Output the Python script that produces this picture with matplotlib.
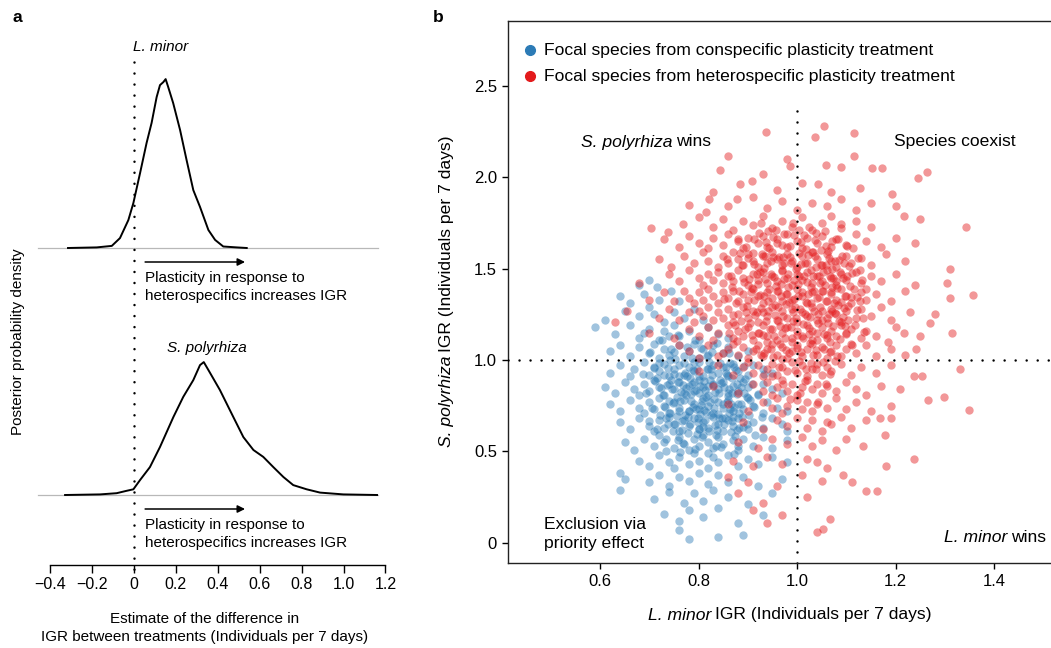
import matplotlib
matplotlib.use("Agg")
import matplotlib.pyplot as plt

# panel a: posterior densities (x = difference in IGR, density in arbitrary units)
lminor_x = [-0.315, -0.178, -0.106, -0.067, -0.027, -0.003, 0.029, 0.06, 0.084, 0.108, 0.124, 0.14,
            0.151, 0.163, 0.187, 0.22, 0.251, 0.283, 0.315, 0.355, 0.387, 0.426, 0.49, 0.538]
lminor_d = [0, 0.02, 0.07, 0.33, 0.93, 1.5, 2.5, 3.5, 4.17, 5.03, 5.43, 5.53,
            5.63, 5.37, 4.83, 3.93, 2.93, 1.93, 1.37, 0.6, 0.27, 0.05, 0.02, 0]
spoly_x = [-0.329, -0.162, -0.083, -0.035, -0.003, 0.029, 0.076, 0.124, 0.188, 0.235, 0.283, 0.315,
           0.333, 0.363, 0.41, 0.474, 0.522, 0.57, 0.617, 0.665, 0.713, 0.76, 0.824, 0.888, 0.999, 1.16]
spoly_d = [0, 0.02, 0.06, 0.14, 0.19, 0.5, 0.93, 1.6, 2.6, 3.27, 3.83, 4.33,
           4.43, 4.07, 3.5, 2.6, 1.93, 1.5, 1.27, 0.93, 0.6, 0.33, 0.19, 0.08, 0.02, 0]
a_ticks = [-0.4, -0.2, 0, 0.2, 0.4, 0.6, 0.8, 1.0, 1.2]
a_tick_labels = ["\u22120.4", "\u22120.2", "0", "0.2", "0.4", "0.6", "0.8", "1.0", "1.2"]

# panel b: posterior draws (L. minor IGR, S. polyrhiza IGR)
conspecific = [
    (0.68, 1.41), (0.70, 1.44), (0.715, 1.40),
    (0.66, 1.31), (0.69, 1.36), (0.72, 1.33), (0.745, 1.38), (0.76, 1.32), (0.64, 1.35),
    (0.61, 1.22), (0.65, 1.27), (0.68, 1.24), (0.70, 1.29), (0.73, 1.21), (0.75, 1.26), (0.77, 1.23),
    (0.79, 1.28), (0.81, 1.22), (0.71, 1.25),
    (0.59, 1.18), (0.63, 1.14), (0.66, 1.19), (0.68, 1.12), (0.70, 1.17), (0.72, 1.11), (0.73, 1.16),
    (0.75, 1.19), (0.76, 1.13), (0.78, 1.16), (0.80, 1.11), (0.82, 1.18), (0.84, 1.14), (0.69, 1.15),
    (0.74, 1.13), (0.86, 1.12),
    (0.62, 1.05), (0.64, 1.08), (0.66, 1.02), (0.68, 1.07), (0.70, 1.04), (0.71, 1.09), (0.72, 1.01),
    (0.73, 1.06), (0.74, 1.03), (0.76, 1.08), (0.77, 1.02), (0.78, 1.05), (0.79, 1.09), (0.80, 1.01),
    (0.81, 1.06), (0.82, 1.03), (0.83, 1.08), (0.85, 1.04), (0.86, 1.07), (0.88, 1.02), (0.90, 1.05),
    (0.75, 1.045),
    (0.62, 0.93), (0.64, 0.97), (0.66, 0.91), (0.67, 0.95), (0.69, 0.99), (0.70, 0.92), (0.71, 0.96),
    (0.72, 0.94), (0.73, 0.98), (0.74, 0.91), (0.75, 0.95), (0.76, 0.97), (0.77, 0.92), (0.78, 0.96),
    (0.79, 0.94), (0.80, 0.99), (0.81, 0.91), (0.82, 0.95), (0.83, 0.97), (0.84, 0.93), (0.85, 0.96),
    (0.86, 0.91), (0.87, 0.98), (0.88, 0.94), (0.90, 0.92), (0.91, 0.97), (0.93, 0.95), (0.95, 0.93),
    (0.61, 0.85), (0.63, 0.82), (0.65, 0.88), (0.67, 0.84), (0.68, 0.81), (0.69, 0.87), (0.70, 0.83),
    (0.71, 0.89), (0.72, 0.85), (0.73, 0.81), (0.74, 0.87), (0.75, 0.84), (0.76, 0.88), (0.77, 0.82),
    (0.78, 0.86), (0.79, 0.83), (0.80, 0.89), (0.81, 0.85), (0.82, 0.81), (0.83, 0.87), (0.84, 0.84),
    (0.85, 0.88), (0.86, 0.82), (0.87, 0.86), (0.88, 0.83), (0.89, 0.88), (0.90, 0.85), (0.92, 0.81),
    (0.93, 0.87), (0.95, 0.84), (0.97, 0.82), (0.775, 0.845),
    (0.62, 0.76), (0.64, 0.72), (0.66, 0.78), (0.68, 0.74), (0.69, 0.71), (0.70, 0.77), (0.71, 0.73),
    (0.72, 0.79), (0.73, 0.75), (0.74, 0.71), (0.75, 0.77), (0.76, 0.74), (0.77, 0.78), (0.78, 0.72),
    (0.79, 0.76), (0.80, 0.73), (0.81, 0.79), (0.82, 0.75), (0.83, 0.71), (0.84, 0.77), (0.85, 0.74),
    (0.86, 0.78), (0.87, 0.72), (0.88, 0.76), (0.89, 0.73), (0.90, 0.79), (0.91, 0.75), (0.93, 0.71),
    (0.94, 0.77), (0.96, 0.74), (0.98, 0.72), (0.805, 0.755),
    (0.64, 0.66), (0.66, 0.62), (0.68, 0.68), (0.70, 0.64), (0.71, 0.61), (0.72, 0.67), (0.73, 0.63),
    (0.74, 0.69), (0.75, 0.65), (0.76, 0.61), (0.77, 0.67), (0.78, 0.64), (0.79, 0.68), (0.80, 0.62),
    (0.81, 0.66), (0.82, 0.63), (0.83, 0.69), (0.84, 0.65), (0.85, 0.61), (0.86, 0.67), (0.87, 0.64),
    (0.88, 0.68), (0.90, 0.62), (0.91, 0.66), (0.93, 0.63), (0.95, 0.68), (0.97, 0.65), (0.98, 0.61),
    (0.65, 0.55), (0.67, 0.51), (0.69, 0.57), (0.71, 0.53), (0.72, 0.59), (0.73, 0.55), (0.75, 0.52),
    (0.76, 0.58), (0.77, 0.54), (0.78, 0.51), (0.79, 0.57), (0.80, 0.53), (0.81, 0.59), (0.82, 0.55),
    (0.83, 0.52), (0.84, 0.58), (0.85, 0.54), (0.87, 0.56), (0.88, 0.51), (0.89, 0.57), (0.91, 0.53),
    (0.93, 0.58), (0.95, 0.52), (0.98, 0.56),
    (0.68, 0.45), (0.70, 0.42), (0.72, 0.48), (0.74, 0.44), (0.75, 0.41), (0.76, 0.47), (0.78, 0.43),
    (0.79, 0.49), (0.80, 0.45), (0.82, 0.41), (0.83, 0.47), (0.84, 0.44), (0.86, 0.48), (0.88, 0.42),
    (0.90, 0.46), (0.92, 0.43), (0.95, 0.47), (0.98, 0.44),
    (0.64, 0.38), (0.65, 0.35), (0.70, 0.33), (0.72, 0.37), (0.74, 0.31), (0.76, 0.36), (0.78, 0.34),
    (0.80, 0.38), (0.82, 0.32), (0.84, 0.37), (0.86, 0.33), (0.89, 0.36), (0.92, 0.31), (0.97, 0.35),
    (0.64, 0.29), (0.71, 0.24), (0.74, 0.28), (0.77, 0.22), (0.79, 0.27), (0.81, 0.23), (0.83, 0.29),
    (0.86, 0.25), (0.90, 0.21), (0.95, 0.27),
    (0.73, 0.16), (0.76, 0.12), (0.78, 0.18), (0.81, 0.14), (0.84, 0.19), (0.88, 0.11), (0.93, 0.15),
    (0.76, 0.07), (0.78, 0.02), (0.84, 0.03), (0.89, 0.04),
    # dense core
    (0.712, 0.883), (0.738, 0.652), (0.751, 0.921), (0.763, 0.774), (0.779, 0.598), (0.786, 1.012),
    (0.794, 0.836), (0.803, 0.707), (0.817, 0.948), (0.822, 0.611), (0.831, 0.789), (0.846, 0.873),
    (0.853, 0.682), (0.861, 1.036), (0.872, 0.741), (0.884, 0.902), (0.891, 0.636), (0.727, 0.808),
    (0.744, 1.058), (0.758, 0.563), (0.769, 0.862), (0.781, 0.723), (0.797, 0.952), (0.808, 0.579),
    (0.814, 0.834), (0.826, 0.701), (0.838, 1.093), (0.849, 0.757), (0.857, 0.918), (0.866, 0.604),
    (0.879, 0.813), (0.893, 0.969), (0.706, 0.739), (0.719, 0.986), (0.733, 0.567), (0.747, 0.842),
    (0.756, 0.694), (0.772, 0.931), (0.783, 0.648), (0.791, 0.878), (0.806, 1.064), (0.812, 0.728),
    (0.829, 0.863), (0.835, 0.591), (0.843, 0.986), (0.859, 0.804), (0.868, 0.667), (0.876, 0.944),
    (0.887, 0.758), (0.902, 0.701), (0.716, 0.624), (0.729, 0.917), (0.741, 0.776), (0.753, 1.004),
    (0.766, 0.617), (0.774, 0.809), (0.788, 0.946), (0.799, 0.663), (0.811, 0.887), (0.824, 0.768),
    (0.833, 0.642), (0.841, 0.819), (0.855, 0.962), (0.863, 0.731), (0.874, 0.583), (0.886, 0.851),
    (0.898, 0.798), (0.908, 0.871), (0.722, 0.701), (0.736, 0.861), (0.748, 0.611), (0.761, 0.913),
    (0.773, 0.697), (0.784, 0.812), (0.796, 0.594), (0.807, 0.776), (0.818, 1.021), (0.828, 0.917),
    (0.839, 0.702), (0.851, 0.853), (0.864, 0.986), (0.871, 0.688), (0.883, 0.627), (0.895, 0.894),
    (0.912, 0.743), (0.709, 0.958), (0.742, 0.711), (0.757, 0.798), (0.768, 0.544), (0.777, 1.071),
    (0.789, 0.742), (0.801, 0.821), (0.813, 0.673), (0.823, 0.891), (0.836, 0.531), (0.848, 0.684),
    (0.858, 0.772), (0.869, 0.901), (0.881, 0.532), (0.899, 0.648), (0.735, 0.503), (0.762, 0.496),
    (0.792, 0.512), (0.819, 0.489), (0.845, 0.523), (0.872, 0.487), (0.726, 1.112), (0.759, 1.137),
    (0.793, 1.108), (0.701, 1.041), (0.694, 0.817), (0.688, 0.921), (0.699, 0.668), (0.921, 0.813),
    (0.928, 0.689), (0.934, 0.924), (0.915, 0.592),
    (0.731, 0.742), (0.745, 0.893), (0.752, 0.648), (0.764, 0.823), (0.771, 0.981), (0.778, 0.688),
    (0.787, 0.867), (0.795, 0.731), (0.802, 0.912), (0.809, 0.636), (0.816, 0.798), (0.825, 0.952),
    (0.832, 0.737), (0.844, 0.891), (0.852, 0.651), (0.862, 0.843), (0.873, 0.962), (0.882, 0.712),
    (0.739, 0.957), (0.749, 0.763), (0.758, 0.882), (0.767, 0.664), (0.776, 0.913), (0.785, 0.776),
    (0.798, 0.682), (0.804, 0.859), (0.815, 0.713), (0.821, 0.991), (0.834, 0.826), (0.842, 0.683),
    (0.856, 0.931), (0.866, 0.758), (0.878, 0.869), (0.889, 0.688), (0.724, 0.849), (0.733, 0.681),
    (0.761, 0.722), (0.782, 0.903), (0.801, 0.621), (0.819, 0.855), (0.837, 0.618), (0.862, 0.712),
    (0.893, 0.822), (0.905, 0.783), (0.716, 0.902), (0.742, 1.002), (0.791, 0.991), (0.828, 1.041),
    (0.868, 0.818), (0.879, 0.617),
]
heterospecific = [
    (0.938, 2.245), (1.037, 2.22), (1.055, 2.28), (1.116, 2.24),
    (0.86, 2.115), (0.98, 2.10), (1.115, 2.115),
    (0.844, 2.04), (0.986, 2.06), (1.059, 2.064), (1.089, 2.055), (1.153, 2.05), (1.172, 2.05),
    (1.264, 2.03), (0.93, 2.02),
    (0.885, 1.96), (0.909, 1.98), (0.96, 1.93), (1.01, 1.97), (1.042, 1.965), (1.07, 1.92),
    (1.128, 1.94), (1.193, 1.91), (1.246, 1.996), (0.83, 1.92),
    (0.815, 1.81), (0.821, 1.88), (0.879, 1.88), (0.91, 1.89), (0.86, 1.84), (0.94, 1.83), (0.97, 1.87),
    (1.00, 1.82), (1.03, 1.86), (1.06, 1.84), (1.09, 1.88), (1.12, 1.82), (1.15, 1.86), (1.20, 1.84),
    (0.78, 1.85), (1.217, 1.79),
    (0.703, 1.72), (0.738, 1.70), (0.769, 1.745), (0.80, 1.78), (0.83, 1.73), (0.85, 1.77), (0.87, 1.71),
    (0.89, 1.76), (0.91, 1.74), (0.93, 1.79), (0.95, 1.72), (0.97, 1.76), (0.99, 1.73), (1.01, 1.78),
    (1.03, 1.71), (1.05, 1.75), (1.07, 1.79), (1.09, 1.72), (1.12, 1.76), (1.15, 1.73), (1.25, 1.77),
    (1.343, 1.73),
    (0.73, 1.66), (0.76, 1.62), (0.78, 1.68), (0.80, 1.64), (0.82, 1.61), (0.83, 1.67), (0.85, 1.63),
    (0.86, 1.69), (0.88, 1.65), (0.89, 1.61), (0.90, 1.67), (0.92, 1.64), (0.93, 1.68), (0.94, 1.62),
    (0.96, 1.66), (0.97, 1.63), (0.98, 1.69), (1.00, 1.65), (1.01, 1.61), (1.02, 1.67), (1.04, 1.64),
    (1.05, 1.68), (1.07, 1.62), (1.08, 1.66), (1.10, 1.63), (1.12, 1.69), (1.14, 1.65), (1.17, 1.62),
    (1.20, 1.67), (1.24, 1.64),
    (0.719, 1.55), (0.745, 1.51), (0.77, 1.57), (0.79, 1.53), (0.81, 1.59), (0.82, 1.54), (0.84, 1.51),
    (0.85, 1.57), (0.86, 1.53), (0.87, 1.59), (0.88, 1.55), (0.89, 1.52), (0.90, 1.58), (0.91, 1.54),
    (0.92, 1.51), (0.93, 1.57), (0.94, 1.53), (0.95, 1.59), (0.96, 1.55), (0.97, 1.52), (0.98, 1.58),
    (0.99, 1.54), (1.00, 1.51), (1.01, 1.57), (1.02, 1.53), (1.03, 1.59), (1.04, 1.55), (1.05, 1.52),
    (1.06, 1.58), (1.07, 1.54), (1.08, 1.51), (1.10, 1.57), (1.11, 1.53), (1.13, 1.56), (1.15, 1.52),
    (1.18, 1.58), (1.22, 1.54), (1.31, 1.50),
    (0.679, 1.42), (0.74, 1.47), (0.76, 1.43), (0.78, 1.49), (0.80, 1.45), (0.81, 1.41), (0.82, 1.47),
    (0.83, 1.44), (0.84, 1.48), (0.85, 1.42), (0.86, 1.46), (0.87, 1.43), (0.88, 1.49), (0.89, 1.45),
    (0.90, 1.41), (0.91, 1.47), (0.92, 1.44), (0.93, 1.48), (0.94, 1.42), (0.95, 1.46), (0.96, 1.43),
    (0.97, 1.49), (0.98, 1.45), (0.99, 1.41), (1.00, 1.47), (1.01, 1.44), (1.02, 1.48), (1.03, 1.42),
    (1.04, 1.46), (1.05, 1.43), (1.06, 1.49), (1.07, 1.45), (1.08, 1.41), (1.09, 1.47), (1.10, 1.44),
    (1.12, 1.48), (1.13, 1.42), (1.15, 1.46), (1.17, 1.43), (1.20, 1.47), (1.305, 1.42), (1.24, 1.41),
    (0.70, 1.33), (0.73, 1.37), (0.75, 1.32), (0.77, 1.38), (0.78, 1.34), (0.79, 1.31), (0.80, 1.37),
    (0.81, 1.33), (0.82, 1.39), (0.83, 1.35), (0.84, 1.31), (0.85, 1.37), (0.86, 1.34), (0.87, 1.38),
    (0.88, 1.32), (0.89, 1.36), (0.90, 1.33), (0.91, 1.39), (0.92, 1.35), (0.93, 1.31), (0.94, 1.37),
    (0.95, 1.34), (0.96, 1.38), (0.97, 1.32), (0.98, 1.36), (0.99, 1.33), (1.00, 1.39), (1.01, 1.35),
    (1.02, 1.31), (1.03, 1.37), (1.04, 1.34), (1.05, 1.38), (1.06, 1.32), (1.07, 1.36), (1.08, 1.33),
    (1.09, 1.39), (1.10, 1.35), (1.11, 1.31), (1.13, 1.37), (1.14, 1.33), (1.16, 1.36), (1.19, 1.32),
    (1.22, 1.38), (1.31, 1.34), (1.358, 1.355),
    (0.655, 1.27), (0.72, 1.23), (0.74, 1.28), (0.76, 1.22), (0.78, 1.26), (0.79, 1.21), (0.80, 1.27),
    (0.81, 1.24), (0.82, 1.29), (0.83, 1.22), (0.84, 1.26), (0.85, 1.23), (0.86, 1.28), (0.87, 1.21),
    (0.88, 1.25), (0.89, 1.29), (0.90, 1.23), (0.91, 1.27), (0.92, 1.21), (0.93, 1.26), (0.94, 1.24),
    (0.95, 1.29), (0.96, 1.22), (0.97, 1.27), (0.98, 1.23), (0.99, 1.28), (1.00, 1.21), (1.01, 1.26),
    (1.02, 1.24), (1.03, 1.29), (1.04, 1.22), (1.05, 1.27), (1.06, 1.23), (1.07, 1.28), (1.08, 1.25),
    (1.09, 1.21), (1.10, 1.27), (1.12, 1.23), (1.13, 1.28), (1.15, 1.24), (1.17, 1.29), (1.19, 1.22),
    (1.23, 1.26), (1.28, 1.25), (1.27, 1.20),
    (0.631, 1.21), (0.70, 1.15), (0.75, 1.12), (0.78, 1.17), (0.80, 1.13), (0.82, 1.18), (0.83, 1.11),
    (0.84, 1.15), (0.86, 1.19), (0.87, 1.12), (0.88, 1.16), (0.89, 1.13), (0.90, 1.18), (0.91, 1.11),
    (0.92, 1.15), (0.93, 1.19), (0.94, 1.13), (0.95, 1.17), (0.96, 1.11), (0.97, 1.15), (0.98, 1.18),
    (0.99, 1.12), (1.00, 1.16), (1.01, 1.13), (1.02, 1.19), (1.03, 1.11), (1.04, 1.15), (1.05, 1.18),
    (1.06, 1.12), (1.07, 1.16), (1.08, 1.13), (1.09, 1.19), (1.10, 1.14), (1.11, 1.17), (1.13, 1.12),
    (1.14, 1.16), (1.16, 1.13), (1.184, 1.10), (1.217, 1.15), (1.20, 1.18), (1.314, 1.15), (1.25, 1.13),
    (0.78, 1.05), (0.82, 1.08), (0.84, 1.02), (0.86, 1.06), (0.87, 1.09), (0.88, 1.03), (0.89, 1.07),
    (0.90, 1.01), (0.91, 1.05), (0.92, 1.08), (0.93, 1.02), (0.94, 1.06), (0.95, 1.09), (0.96, 1.03),
    (0.97, 1.07), (0.98, 1.01), (0.99, 1.05), (1.00, 1.08), (1.01, 1.02), (1.02, 1.06), (1.03, 1.09),
    (1.04, 1.03), (1.05, 1.07), (1.06, 1.01), (1.07, 1.05), (1.08, 1.08), (1.09, 1.02), (1.10, 1.06),
    (1.12, 1.04), (1.14, 1.08), (1.16, 1.02), (1.19, 1.06), (1.242, 1.06), (0.85, 1.04), (1.11, 1.09),
    (0.80, 1.01), (1.22, 1.03), (0.76, 1.08),
    (0.80, 0.94), (0.84, 0.97), (0.87, 0.92), (0.89, 0.96), (0.90, 0.99), (0.91, 0.93), (0.92, 0.97),
    (0.93, 0.91), (0.94, 0.95), (0.95, 0.98), (0.96, 0.92), (0.97, 0.96), (0.98, 0.94), (0.99, 0.99),
    (1.00, 0.93), (1.01, 0.97), (1.02, 0.91), (1.03, 0.95), (1.04, 0.98), (1.05, 0.92), (1.06, 0.96),
    (1.07, 0.94), (1.09, 0.98), (1.11, 0.92), (1.13, 0.96), (1.16, 0.93), (1.238, 0.91), (1.254, 0.91),
    (1.33, 0.95), (1.19, 0.97),
    (0.83, 0.86), (0.88, 0.82), (0.91, 0.87), (0.93, 0.83), (0.94, 0.88), (0.95, 0.81), (0.96, 0.85),
    (0.97, 0.89), (0.98, 0.83), (0.99, 0.87), (1.00, 0.81), (1.01, 0.85), (1.02, 0.89), (1.03, 0.84),
    (1.04, 0.87), (1.05, 0.82), (1.06, 0.86), (1.08, 0.83), (1.10, 0.88), (1.12, 0.84), (1.14, 0.81),
    (1.17, 0.86), (1.298, 0.80), (1.21, 0.84),
    (0.86, 0.76), (0.90, 0.72), (0.93, 0.77), (0.95, 0.74), (0.96, 0.79), (0.97, 0.71), (0.98, 0.75),
    (1.00, 0.78), (1.01, 0.73), (1.02, 0.77), (1.03, 0.72), (1.04, 0.76), (1.06, 0.74), (1.08, 0.79),
    (1.10, 0.73), (1.12, 0.77), (1.15, 0.72), (1.265, 0.78), (1.35, 0.727), (1.19, 0.75),
    (0.89, 0.66), (0.93, 0.62), (0.96, 0.67), (0.98, 0.64), (1.00, 0.68), (1.02, 0.63), (1.03, 0.67),
    (1.05, 0.61), (1.07, 0.65), (1.09, 0.69), (1.11, 0.63), (1.14, 0.67), (1.168, 0.68), (1.19, 0.68),
    (1.06, 0.66),
    (0.88, 0.55), (0.92, 0.52), (0.95, 0.57), (0.98, 0.54), (1.01, 0.58), (1.03, 0.53), (1.05, 0.56),
    (1.08, 0.51), (1.135, 0.53), (1.178, 0.59), (1.10, 0.57),
    (0.87, 0.45), (0.91, 0.42), (0.94, 0.47), (0.97, 0.43), (1.02, 0.46), (1.06, 0.41), (1.18, 0.42),
    (1.238, 0.46), (1.04, 0.44),
    (0.86, 0.36), (0.90, 0.33), (0.96, 0.31), (1.01, 0.37), (1.093, 0.37), (1.112, 0.33), (1.05, 0.34),
    (0.88, 0.27), (0.93, 0.22), (1.02, 0.25), (1.141, 0.285), (1.162, 0.285),
    (0.91, 0.18), (0.97, 0.15), (1.067, 0.13), (0.94, 0.11),
    (1.04, 0.058), (1.052, 0.076),
    # dense core
    (0.912, 1.523), (0.927, 1.287), (0.938, 1.648), (0.946, 1.172), (0.957, 1.406), (0.963, 1.561),
    (0.971, 1.238), (0.982, 1.472), (0.989, 1.098), (0.994, 1.332), (1.004, 1.587), (1.013, 1.196),
    (1.021, 1.427), (1.028, 1.312), (1.036, 1.654), (1.043, 1.251), (1.052, 1.483), (1.061, 1.137),
    (1.069, 1.371), (1.077, 1.542), (1.086, 1.214), (1.094, 1.447), (1.103, 1.298), (1.114, 1.612),
    (0.883, 1.376), (0.894, 1.168), (0.903, 1.443), (0.917, 1.061), (0.924, 1.356), (0.933, 1.503),
    (0.941, 1.268), (0.952, 1.017), (0.959, 1.638), (0.968, 1.349), (0.976, 1.119), (0.985, 1.566),
    (0.991, 1.263), (1.002, 1.418), (1.009, 1.041), (1.017, 1.529), (1.026, 1.233), (1.034, 1.377),
    (1.041, 1.112), (1.049, 1.601), (1.058, 1.324), (1.066, 1.458), (1.073, 1.187), (1.082, 1.392),
    (1.091, 1.571), (1.099, 1.146), (1.108, 1.406), (1.121, 1.273), (0.871, 1.248), (0.889, 1.519),
    (0.899, 1.294), (0.908, 1.136), (0.921, 1.418), (0.929, 1.582), (0.937, 1.211), (0.948, 1.471),
    (0.955, 1.302), (0.966, 1.087), (0.973, 1.443), (0.979, 1.617), (0.987, 1.181), (0.997, 1.497),
    (1.007, 1.281), (1.014, 1.683), (1.023, 1.361), (1.031, 1.158), (1.039, 1.511), (1.047, 1.288),
    (1.055, 1.062), (1.063, 1.594), (1.071, 1.268), (1.079, 1.433), (1.088, 1.113), (1.097, 1.351),
    (1.106, 1.512), (1.118, 1.193), (0.866, 1.461), (0.878, 1.103), (0.896, 1.617), (0.906, 1.371),
    (0.915, 1.247), (0.923, 1.693), (0.931, 1.139), (0.943, 1.387), (0.951, 1.562), (0.961, 1.216),
    (0.969, 1.487), (0.977, 1.308), (0.983, 1.039), (0.993, 1.682), (1.001, 1.139), (1.011, 1.374),
    (1.019, 1.608), (1.027, 1.092), (1.033, 1.461), (1.044, 1.347), (1.051, 1.218), (1.059, 1.517),
    (1.068, 1.041), (1.076, 1.311), (1.084, 1.661), (1.093, 1.236), (1.101, 1.461), (1.111, 1.081),
    (0.887, 1.213), (0.901, 1.556), (0.913, 1.327), (0.926, 1.027), (0.936, 1.441), (0.944, 1.613),
    (0.953, 1.129), (0.962, 1.292), (0.974, 1.532), (0.981, 1.397), (0.992, 1.211), (0.999, 1.067),
    (1.008, 1.527), (1.018, 1.316), (1.024, 1.176), (1.037, 1.571), (1.046, 1.419), (1.054, 1.143),
    (1.064, 1.251), (1.072, 1.497), (1.081, 1.024), (1.089, 1.317), (1.104, 1.219), (1.116, 1.386),
    (0.949, 0.912), (0.972, 0.871), (0.995, 0.943), (1.016, 0.887), (1.038, 0.953), (1.059, 0.869),
    (0.964, 0.961), (1.006, 0.818), (1.042, 0.771), (0.985, 0.788), (1.028, 0.982), (1.067, 0.924),
    (0.958, 1.712), (0.991, 1.751), (1.024, 1.727), (1.057, 1.706), (0.927, 1.747), (1.089, 1.744),
    (0.881, 1.662), (1.124, 1.557), (1.132, 1.437), (1.127, 1.322), (1.137, 1.154), (0.858, 1.552),
    (0.852, 1.331), (0.861, 1.148),
    (0.905, 1.205), (0.918, 1.468), (0.932, 1.351), (0.947, 1.539), (0.956, 1.248), (0.967, 1.413),
    (0.975, 1.176), (0.988, 1.528), (0.996, 1.292), (1.005, 1.461), (1.012, 1.118), (1.022, 1.574),
    (1.029, 1.402), (1.035, 1.267), (1.048, 1.521), (1.053, 1.376), (1.062, 1.203), (1.074, 1.447),
    (1.083, 1.302), (1.095, 1.528), (0.909, 1.392), (0.922, 1.147), (0.935, 1.571), (0.942, 1.322),
    (0.954, 1.453), (0.965, 1.186), (0.978, 1.362), (0.986, 1.623), (0.998, 1.228), (1.003, 1.351),
    (1.015, 1.462), (1.025, 1.141), (1.032, 1.589), (1.042, 1.204), (1.057, 1.412), (1.065, 1.557),
    (1.078, 1.259), (1.087, 1.481), (1.098, 1.188), (1.109, 1.343), (0.892, 1.427), (0.897, 1.262),
    (0.911, 1.586), (0.925, 1.482), (0.939, 1.101), (0.951, 1.671), (0.962, 1.378), (0.972, 1.561),
    (0.984, 1.317), (0.994, 1.439), (1.009, 1.648), (1.016, 1.253), (1.029, 1.493), (1.038, 1.052),
    (1.045, 1.459), (1.058, 1.621), (1.066, 1.097), (1.071, 1.401), (1.085, 1.546), (1.096, 1.283),
    (1.112, 1.477), (1.121, 1.346), (0.876, 1.312), (0.885, 1.586), (0.919, 1.264), (0.947, 1.058),
    (0.978, 1.052), (1.004, 0.996), (1.033, 1.027), (1.052, 0.987), (0.969, 1.006), (1.019, 0.952),
    (0.934, 1.036), (1.078, 0.994), (0.942, 1.708), (0.974, 1.689), (1.005, 1.712), (1.039, 1.697),
    (1.071, 1.652), (0.912, 1.662), (1.101, 1.621), (0.868, 1.398), (0.874, 1.192), (1.128, 1.492),
    (1.133, 1.231), (1.141, 1.387),
]
b_xticks = [0.6, 0.8, 1.0, 1.2, 1.4]
b_xtick_labels = ["0.6", "0.8", "1.0", "1.2", "1.4"]
b_yticks = [0, 0.5, 1.0, 1.5, 2.0, 2.5]
b_ytick_labels = ["0", "0.5", "1.0", "1.5", "2.0", "2.5"]

BLUE = "#2c7bb6"
RED = "#e31a1c"
W, H = 1051, 648
FS_B = 12.6

plt.rcParams["font.family"] = ["Liberation Sans", "DejaVu Sans"]


def fx(px):
    return px / W


def fy(py):
    return 1 - py / H


def mixed_text(fig, x_px, y_px, parts, size, ha="center", rotation=0):
    # lay out italic / upright pieces side by side (pixel coords, y from top)
    renderer = fig.canvas.get_renderer()
    gap = 0.22 * size * 100 / 72
    items = []
    for s, style in parts:
        t = fig.text(0, 0, s, fontsize=size, style=style, rotation=rotation,
                     ha="left" if rotation == 0 else "center",
                     va="center" if rotation == 0 else "bottom")
        bb = t.get_window_extent(renderer)
        items.append((t, bb.width if rotation == 0 else bb.height))
    total = sum(w for _, w in items) + gap * (len(items) - 1)
    start = {"center": -total / 2, "left": 0, "right": -total}[ha]
    pos = start
    for t, w in items:
        if rotation == 0:
            t.set_position((fx(x_px + pos), fy(y_px)))
        else:
            t.set_position((fx(x_px), fy(y_px - pos)))
        pos += w + gap


DOTS = dict(color="black", lw=1.8, linestyle=(0, (0.01, 4.4)), dash_capstyle="round")

fig = plt.figure(figsize=(W / 100, H / 100), dpi=100)

# ---------- panel a ----------
ax_a = fig.add_axes([fx(29.25), fy(565), fx(395.9) - fx(29.25), fy(40) - fy(565)])
ax_a.set_xlim(-0.5, 1.25)
ax_a.set_ylim(0, 525)
scale = 30.0
top_base, bot_base = 317, 70

for base, xs, ds in [(top_base, lminor_x, lminor_d), (bot_base, spoly_x, spoly_d)]:
    ax_a.plot([-0.458, 1.165], [base, base], color="#b8b8b8", lw=0.9, zorder=1)
    ax_a.plot(xs, [base + d * scale for d in ds], color="black", lw=1.4, zorder=3)

ax_a.plot([0, 0], [503, -12], clip_on=False, zorder=2, **DOTS)

for base in (top_base, bot_base):
    ax_a.annotate("", xy=(0.53, base - 14), xytext=(0.053, base - 14),
                  arrowprops=dict(arrowstyle="-|>", color="black", lw=1.1,
                                  mutation_scale=11, shrinkA=0, shrinkB=0))
    ax_a.text(0.053, base - 39, "Plasticity in response to\nheterospecifics increases IGR",
              fontsize=11, ha="left", va="center", linespacing=1.45)

ax_a.text(0.125, 518, "L. minor", fontsize=11, style="italic", ha="center", va="center")
ax_a.text(0.348, 217, "S. polyrhiza", fontsize=11, style="italic", ha="center", va="center")

for s in ("left", "right", "top"):
    ax_a.spines[s].set_visible(False)
ax_a.spines["bottom"].set_bounds(-0.4, 1.2)
ax_a.spines["bottom"].set_linewidth(1.0)
ax_a.set_yticks([])
ax_a.set_xticks(a_ticks)
ax_a.set_xticklabels(a_tick_labels, fontsize=11.5)
ax_a.tick_params(axis="x", length=5.5, width=1.0, pad=3)

fig.text(fx(18), fy(342), "Posterior probability density", rotation=90,
         fontsize=11, ha="center", va="center")
fig.text(fx(205), fy(628), "Estimate of the difference in\nIGR between treatments (Individuals per 7 days)",
         fontsize=11, ha="center", va="center", linespacing=1.3)

# ---------- panel b ----------
ax_b = fig.add_axes([fx(508), fy(563), fx(1060) - fx(508), fy(20.7) - fy(563)])
ax_b.set_xlim(0.4132, 1.534)
ax_b.set_ylim(-0.1105, 2.856)

ax_b.scatter([p[0] for p in conspecific], [p[1] for p in conspecific],
             s=36, color=BLUE, alpha=0.45, linewidths=0, zorder=2)
ax_b.scatter([p[0] for p in heterospecific], [p[1] for p in heterospecific],
             s=36, color=RED, alpha=0.45, linewidths=0, zorder=2)

ax_b.plot([0.4132, 1.534], [1.0, 1.0], zorder=4, **DOTS)
ax_b.plot([1.0, 1.0], [-0.11, 2.4], zorder=4, **DOTS)

for s in ("left", "bottom", "top"):
    ax_b.spines[s].set_linewidth(1.0)
    ax_b.spines[s].set_color("#222222")
ax_b.spines["right"].set_visible(False)
ax_b.set_xticks(b_xticks)
ax_b.set_xticklabels(b_xtick_labels, fontsize=12)
ax_b.set_yticks(b_yticks)
ax_b.set_yticklabels(b_ytick_labels, fontsize=12)
ax_b.tick_params(length=4, width=1.0, pad=4)

# legend
ax_b.plot([0.4585], [2.695], "o", color=BLUE, ms=7, clip_on=False)
ax_b.plot([0.4585], [2.553], "o", color=RED, ms=7, clip_on=False)
ax_b.text(0.4865, 2.695, "Focal species from conspecific plasticity treatment",
          fontsize=FS_B, va="center", ha="left")
ax_b.text(0.4865, 2.553, "Focal species from heterospecific plasticity treatment",
          fontsize=FS_B, va="center", ha="left")

# quadrant labels
ax_b.text(1.32, 2.196, "Species coexist", fontsize=FS_B, ha="center", va="center")
ax_b.text(0.487, 0.048, "Exclusion via\npriority effect", fontsize=FS_B,
          ha="left", va="center", linespacing=1.4)
mixed_text(fig, 646, 142, [("S. polyrhiza", "italic"), ("wins", "normal")], FS_B)
mixed_text(fig, 1046, 537, [("L. minor", "italic"), ("wins", "normal")], FS_B, ha="right")

# axis titles
mixed_text(fig, 790, 615, [("L. minor", "italic"), ("IGR (Individuals per 7 days)", "normal")], FS_B)
mixed_text(fig, 447, 291, [("S. polyrhiza", "italic"), ("IGR (Individuals per 7 days)", "normal")],
           FS_B, rotation=90)

fig.text(fx(17), fy(18), "a", fontsize=12.5, fontweight="bold", ha="center", va="center")
fig.text(fx(438), fy(18), "b", fontsize=12.5, fontweight="bold", ha="center", va="center")

fig.savefig("out.png", dpi=100)
plt.close(fig)
